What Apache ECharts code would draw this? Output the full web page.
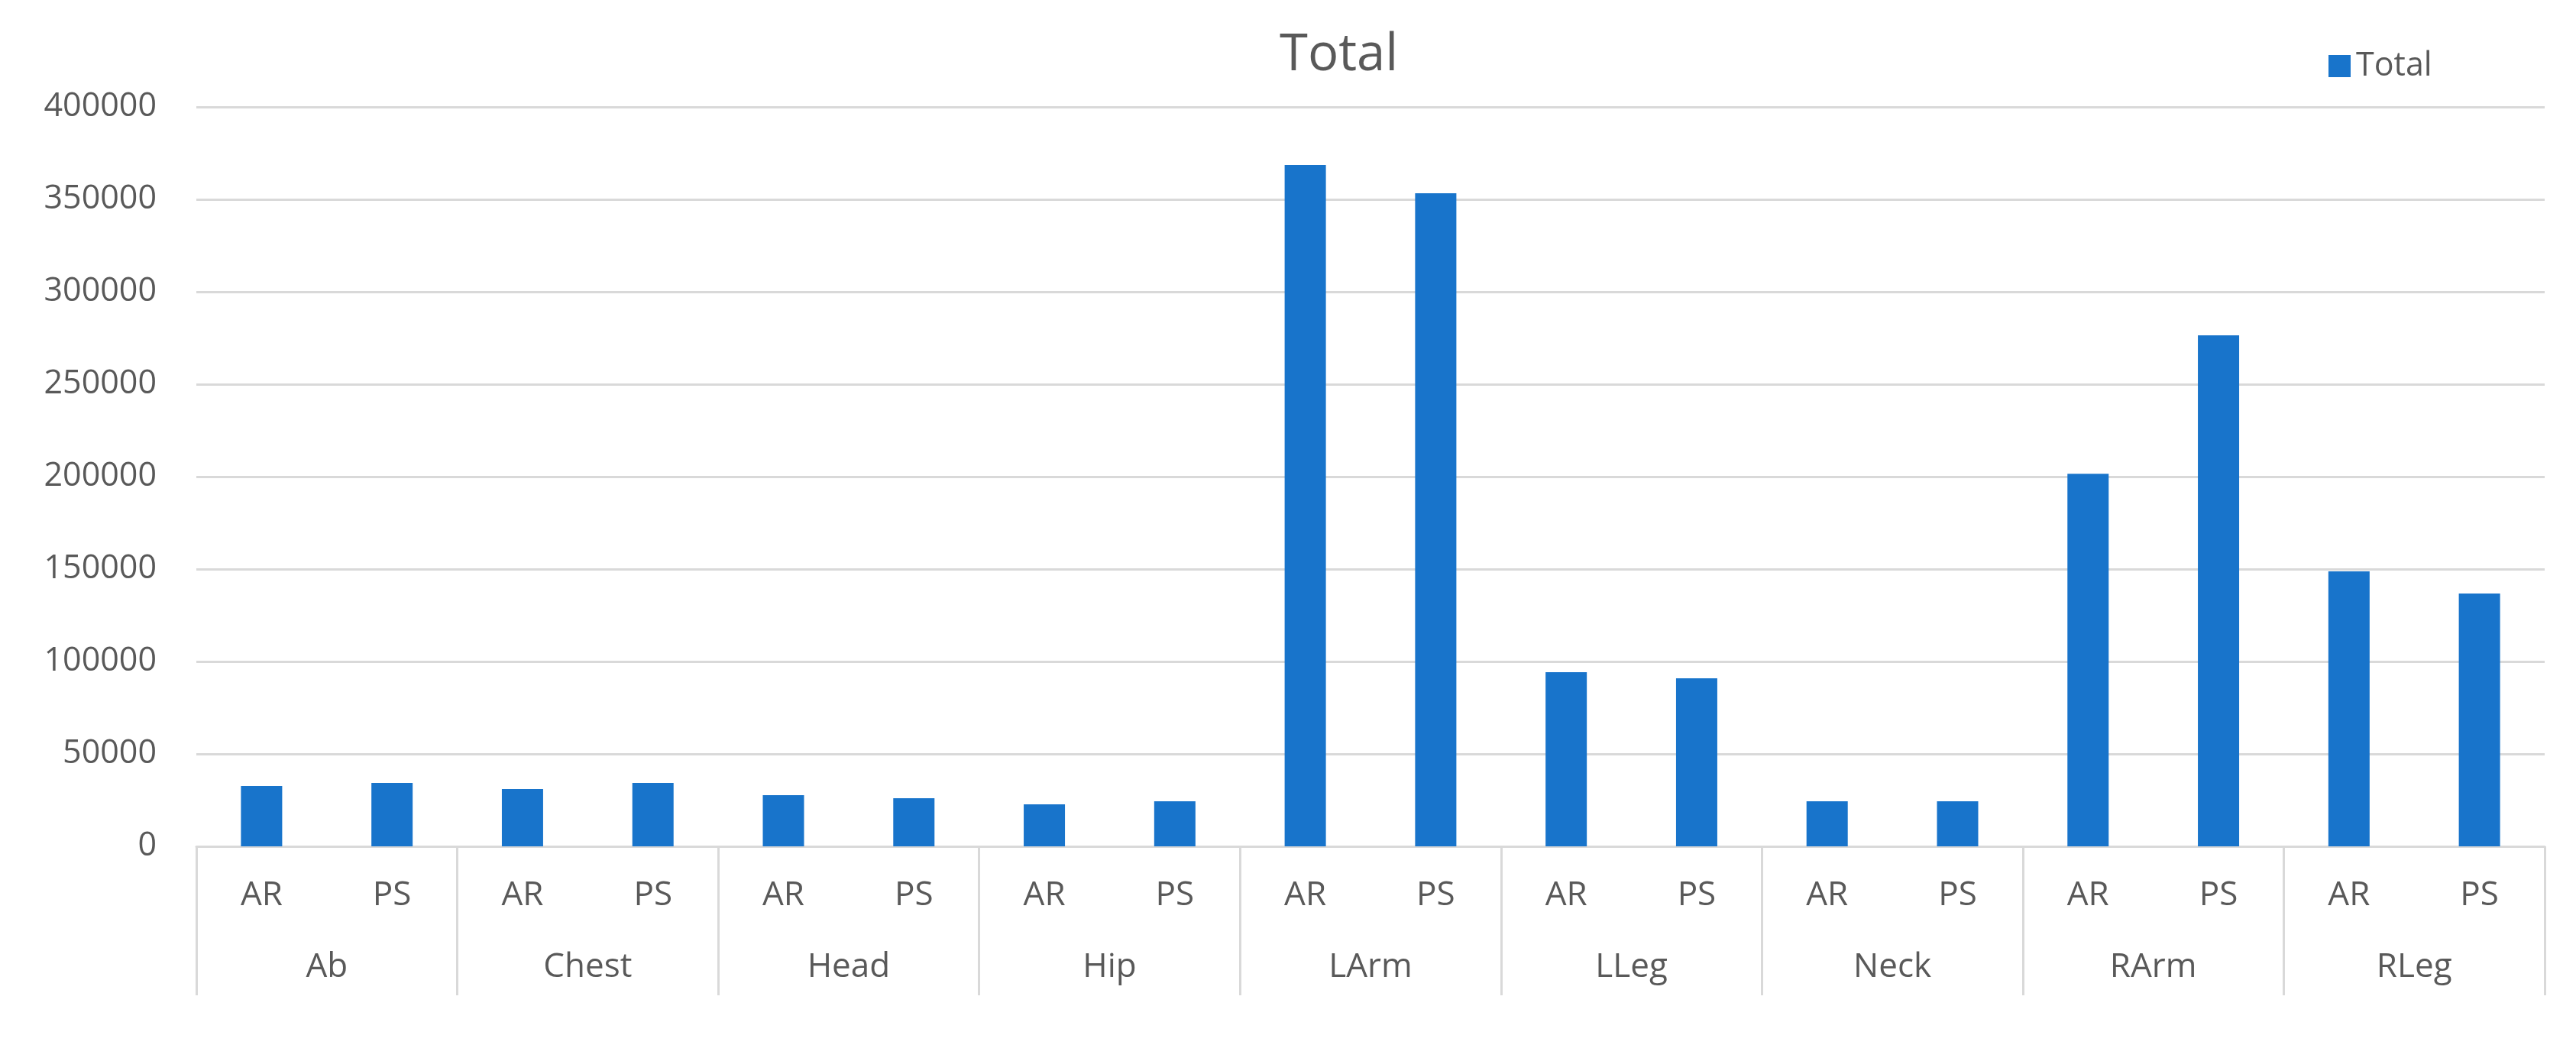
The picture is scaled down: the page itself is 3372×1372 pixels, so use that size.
<!DOCTYPE html>
<html>
<head>
<meta charset="utf-8">
<script src="https://cdn.jsdelivr.net/npm/echarts@6/dist/echarts.min.js"></script>
<style>
  html, body { margin: 0; padding: 0; background: #fff; }
  #main { width: 3372px; height: 1372px; }
</style>
</head>
<body>
<div id="main"></div>
<script>
// sub categories (one per bar) and their body part groups
var subCats   = ['AR','PS','AR','PS','AR','PS','AR','PS','AR','PS','AR','PS','AR','PS','AR','PS','AR','PS'];
var groups    = ['Ab','Chest','Head','Hip','LArm','LLeg','Neck','RArm','RLeg'];
var totals    = [32600, 34300, 31000, 34300, 27700, 26000, 22700, 24400,
                 368600, 353300, 94200, 90900, 24400, 24400,
                 201600, 276400, 148800, 136800];
var yTicks    = [0, 50000, 100000, 150000, 200000, 250000, 300000, 350000, 400000];

var textColor = '#595959';
var lineColor = '#d9d9d9';
var font = 'Open Sans';

var myChart = echarts.init(document.getElementById('main'));

var option = {
    animation: false,
    backgroundColor: '#fff',
    title: {
        text: 'Total',
        left: 1670,
        top: 34,
        textStyle: { fontFamily: font, fontSize: 67, fontWeight: 'normal', color: textColor }
    },
    legend: {
        data: ['Total'],
        left: 3043,
        top: 60,
        icon: 'rect',
        itemWidth: 29,
        itemHeight: 29,
        itemGap: 10,
        textStyle: { fontFamily: font, fontSize: 43, color: textColor, padding: [0, 0, 0, 2] }
    },
    grid: {
        left: 257,
        right: 3372 - 3331,
        top: 140,
        bottom: 1372 - 1108,
        containLabel: false
    },
    xAxis: [{
        type: 'category',
        data: subCats,
        position: 'bottom',
        axisLine: { show: true, lineStyle: { color: lineColor, width: 3 } },
        axisTick: { show: false },
        axisLabel: { fontFamily: font, fontSize: 44, color: textColor, margin: 42, interval: 0 }
    }, {
        type: 'category',
        data: groups,
        position: 'bottom',
        axisLine: { show: false },
        axisTick: { show: true, length: 195, lineStyle: { color: lineColor, width: 3 } },
        axisLabel: { fontFamily: font, fontSize: 44, color: textColor, margin: 136, interval: 0 }
    }],
    yAxis: {
        type: 'value',
        min: yTicks[0],
        max: yTicks[yTicks.length - 1],
        interval: yTicks[1] - yTicks[0],
        axisLine: { show: false },
        axisTick: { show: false },
        axisLabel: {
            fontFamily: font, fontSize: 43, color: textColor, margin: 52,
            formatter: function (v) { return String(v); }
        },
        splitLine: { lineStyle: { color: lineColor, width: 3 } }
    },
    series: [{
        name: 'Total',
        type: 'bar',
        xAxisIndex: 0,
        barWidth: 54,
        itemStyle: { color: '#1874cb' },
        data: totals
    }]
};

myChart.setOption(option);
</script>
</body>
</html>
